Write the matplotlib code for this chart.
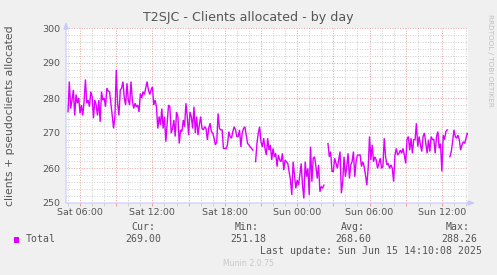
import matplotlib
matplotlib.use("Agg")
import matplotlib.pyplot as plt
from matplotlib.ticker import MultipleLocator, FixedLocator
import numpy as np

# Clients allocated, sampled every 1/9 hour starting Sat 05:00 (hours since Sat 00:00)
t_start = 5.0
t_step = 1.0 / 9.0
nan = np.nan
values = [
    276.1, 284.7, 277.0, 279.4, 282.3, 275.0, 281.0, 278.5, 280.0, 275.6, 278.0, 275.0,
    279.0, 285.3, 278.5, 279.4, 277.5, 281.8, 280.4, 274.2, 279.4, 278.0, 275.0, 279.4,
    273.2, 281.8, 279.4, 280.0, 277.5, 282.8, 282.0, 281.8, 278.5, 275.0, 271.3, 274.7,
    288.0, 278.5, 275.0, 282.3, 282.8, 284.7, 280.0, 278.0, 284.2, 279.4, 278.0, 284.7,
    279.4, 277.0, 278.5, 277.5, 278.0, 276.0, 281.3, 280.0, 281.8, 281.0, 282.8, 284.7,
    282.3, 281.0, 282.3, 283.2, 278.0, 279.4, 277.5, 271.3, 274.7, 272.3, 277.0, 271.3,
    274.7, 267.5, 272.8, 278.0, 277.5, 270.0, 271.3, 273.7, 269.0, 276.0, 274.7, 267.0,
    270.9, 270.4, 273.7, 271.8, 278.5, 274.7, 269.4, 276.0, 274.7, 271.3, 277.5, 270.0,
    274.7, 269.4, 272.3, 274.7, 271.3, 270.9, 271.8, 271.3, 268.0, 271.3, 272.8, 270.4,
    270.0, 268.5, 266.6, 267.5, 275.6, 271.3, 270.9, 270.9, 265.6, 265.6, 265.6, 266.6,
    270.4, 269.0, 268.5, 270.4, 271.8, 270.9, 269.0, 269.0, 270.9, 266.0, 270.0, 271.3,
    271.8, 269.4, 267.0, 266.6, 266.0, 265.6, 265.1, nan, 261.8, 267.0, 270.0, 271.8,
    267.5, 266.0, 268.5, 265.6, 263.7, 268.5, 265.1, 266.6, 262.3,
    265.6, 263.2, 264.2, 260.4, 263.7, 262.3, 261.8, 264.2, 259.4, 262.3, 261.8, 261.3,
    259.0, 256.6, 252.3, 261.8, 258.0, 254.2, 256.6, 255.1, 258.0, 261.3, 255.1, 251.3,
    261.8, 257.5, 259.9, 252.3, 266.1, 256.1, 262.8, 263.2, 260.4, 257.0, 260.9, 253.2,
    254.7, 254.2, 255.1, nan, nan,
    267.0, 263.2, 264.7, 259.0, 259.0, 262.8, 261.3, 259.9, 262.3, 264.7, 252.8, 256.1,
    263.2, 257.5, 260.4, 264.2, 257.0, 260.9, 261.8, 264.7, 257.5, 261.8, 263.7, 263.7,
    263.7, 260.4, 261.8, 260.4, 258.0, 255.1, 259.9, 269.0, 262.3, 266.6, 261.8, 263.2,
    262.3, 259.9, 261.3, 262.8, 259.9, 260.4, 268.5, 263.2, 260.9, 261.3, 259.9, 260.9,
    259.9, 256.1, 263.7, 265.6, 263.7, 264.2, 265.1, 264.2, 265.6, 263.7, 261.3, 268.2,
    269.0, 265.1, 268.5, 264.2, 268.1, 268.1, 272.8, 266.1, 269.0, 266.6, 264.7, 269.0,
    270.0, 267.0, 264.2, 268.1, 264.7, 269.0, 268.1, 268.2, 264.2, 269.0, 270.4, 265.6,
    267.0, 259.0, 269.4, 268.1, 270.4, 270.9, nan,
    263.2, 264.7, 267.5, 270.9, 269.0, 268.5, 269.4, 268.1, 265.1, 266.6, 267.5, 267.0,
    268.5, 270.0, 269.4,
]

tick_hours = [6, 12, 18, 24, 30, 36]
tick_labels = ["Sat 06:00", "Sat 12:00", "Sat 18:00", "Sun 00:00", "Sun 06:00", "Sun 12:00"]
x_range = (38.1667 - 400 / 12.0, 38.1667)
y_range = (250, 300)

legend_heads = ["Cur:", "Min:", "Avg:", "Max:"]
legend_vals = ["269.00", "251.18", "268.60", "288.26"]
series_name = "Total"
last_update = "Last update: Sun Jun 15 14:10:08 2025"

line_color = "#dd00ff"
text_color = "#555555"
W, H = 497, 275

times = t_start + t_step * np.arange(len(values))

fig = plt.figure(figsize=(W / 100, H / 100), dpi=100, facecolor="#f0f0f0")
ax = fig.add_axes([66 / W, 1 - 203 / H, 402 / W, 175 / H])
ax.set_facecolor("white")

ax.plot(times, values, color=line_color, lw=1.0, solid_joinstyle="miter")

ax.set_xlim(*x_range)
ax.set_ylim(*y_range)

# grid: minor grey, major red, both dotted
ax.xaxis.set_minor_locator(MultipleLocator(1))
ax.yaxis.set_major_locator(MultipleLocator(10))
ax.yaxis.set_minor_locator(MultipleLocator(2))
ax.grid(which="minor", color="#cfcfcf", ls=(0, (1, 1.6)), lw=0.7)
ax.grid(which="major", color="#e4a0a0", ls=(0, (1, 1.6)), lw=0.7)
ax.set_axisbelow(True)

major_x = np.arange(6, 39, 3)
ax.xaxis.set_major_locator(FixedLocator(major_x))
ax.set_xticklabels([tick_labels[tick_hours.index(h)] if h in tick_hours else ""
                    for h in major_x])
ax.tick_params(axis="both", which="both", length=2, width=0.7, colors="#e4a0a0",
               labelcolor=text_color, labelsize=6.8, pad=1.5)
ax.tick_params(axis="both", which="minor", colors="#cfcfcf")
ax.tick_params(axis="y", which="both", length=0, pad=4)

for s in ax.spines.values():
    s.set_visible(False)

# axes with arrows
ax.annotate("", xy=(0, 1.035), xytext=(0, 0), xycoords="axes fraction",
            arrowprops=dict(arrowstyle="-|>,head_width=0.15,head_length=0.4",
                            color="#c8c8ff", lw=0.8, shrinkA=0, shrinkB=0))
ax.annotate("", xy=(1.018, 0), xytext=(0, 0), xycoords="axes fraction",
            arrowprops=dict(arrowstyle="-|>,head_width=0.15,head_length=0.4",
                            color="#c8c8ff", lw=0.8, shrinkA=0, shrinkB=0))

def px(x, y):
    return x / W, 1 - y / H

fig.text(*px(248, 18), "T2SJC - Clients allocated - by day", ha="center", va="center",
         fontsize=9.1, color=text_color)
fig.text(*px(10, 115.5), "clients + pseudoclients allocated", ha="center", va="center",
         rotation=90, fontsize=7.8, color=text_color)
fig.text(*px(490, 60), "RRDTOOL / TOBI OETIKER", ha="center", va="center",
         rotation=270, fontsize=5.2, color="#c0c0c0")

mono = "DejaVu Sans Mono"
head_right = [155, 259, 365, 470]
val_right = [161, 266, 371, 477]
for h, xr in zip(legend_heads, head_right):
    fig.text(*px(xr, 227), h, ha="right", va="center", family=mono, fontsize=7.1,
             color=text_color)
for v, xr in zip(legend_vals, val_right):
    fig.text(*px(xr, 239.5), v, ha="right", va="center", family=mono, fontsize=7.1,
             color=text_color)
fig.patches.append(plt.Rectangle(px(14, 243), 5 / W, 6 / H, transform=fig.transFigure,
                                 facecolor=line_color, edgecolor="none"))
fig.text(*px(26, 239.5), series_name, ha="left", va="center", family=mono, fontsize=7.1,
         color=text_color)
fig.text(*px(482, 251.5), last_update, ha="right", va="center", family=mono, fontsize=7.1,
         color=text_color)
fig.text(*px(248, 263), "Munin 2.0.75", ha="center", va="center", fontsize=5.6,
         color="#c8c8c8")

fig.savefig("out.png", dpi=100, facecolor=fig.get_facecolor())
